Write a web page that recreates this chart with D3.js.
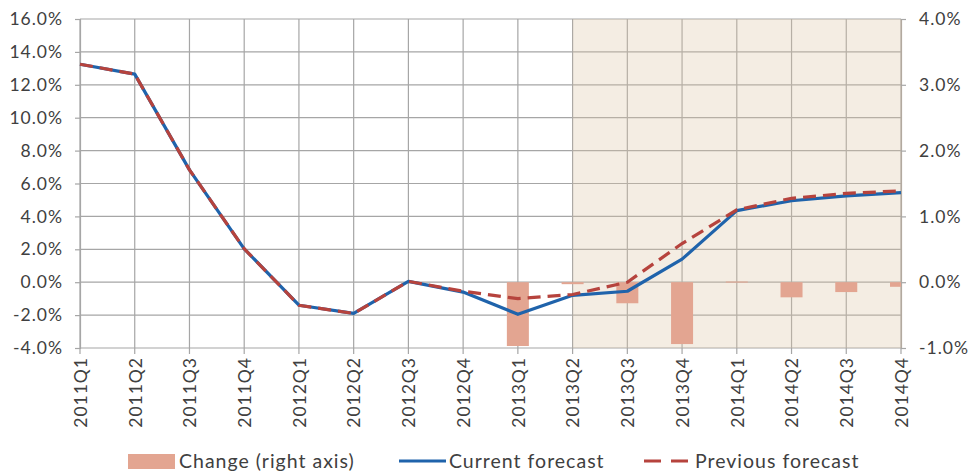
<!DOCTYPE html>
<html>
<head>
<meta charset="utf-8">
<script src="https://cdn.jsdelivr.net/npm/d3@7"></script>
<style>
  html, body { margin: 0; padding: 0; background: #ffffff; }
  svg { display: block; }
  text { font-family: "Lato", "Open Sans", sans-serif; fill: #404040; letter-spacing: 1px; }
</style>
</head>
<body>
<svg id="chart" width="970" height="472"></svg>
<script>
// Quarterly growth forecasts (left axis, %) and revision (right axis, %)
const categories = ["2011Q1","2011Q2","2011Q3","2011Q4","2012Q1","2012Q2","2012Q3","2012Q4",
                    "2013Q1","2013Q2","2013Q3","2013Q4","2014Q1","2014Q2","2014Q3","2014Q4"];
const currentForecast  = [13.25, 12.65, 6.83, 2.03, -1.4, -1.9, 0.05, -0.6, -1.95, -0.8, -0.55, 1.4, 4.35, 4.95, 5.25, 5.45];
const previousForecast = [13.25, 12.65, 6.83, 2.03, -1.4, -1.9, 0.05, -0.55, -1.0, -0.75, 0.0, 2.35, 4.4, 5.1, 5.4, 5.55];
const changeRightAxis  = [0, 0, 0, 0, 0, 0, 0, 0, -0.97, -0.03, -0.32, -0.94, 0.01, -0.23, -0.15, -0.07];
const leftTicks  = [-4, -2, 0, 2, 4, 6, 8, 10, 12, 14, 16];
const rightTicks = [-1, 0, 1, 2, 3, 4];
const forecastStart = "2013Q2";
const legendLabels = ["Change (right axis)", "Current forecast", "Previous forecast"];

const svg = d3.select("#chart");
const plot = { left: 80, right: 901, top: 19, bottom: 348 };

const x = d3.scalePoint().domain(categories).range([plot.left, plot.right]).padding(0);
const yL = d3.scaleLinear().domain([-4, 16]).range([plot.bottom, plot.top]);
const yR = d3.scaleLinear().domain([-1, 4]).range([plot.bottom, plot.top]);

const gridColor = "#a6a6a6";

// clip for bars at the plot edges
svg.append("defs").append("clipPath").attr("id", "plotClip")
  .append("rect")
  .attr("x", plot.left).attr("y", plot.top)
  .attr("width", plot.right - plot.left).attr("height", plot.bottom - plot.top);

// horizontal gridlines
svg.append("g").selectAll("line").data(leftTicks).join("line")
  .attr("x1", plot.left).attr("x2", plot.right)
  .attr("y1", d => yL(d)).attr("y2", d => yL(d))
  .attr("stroke", gridColor).attr("stroke-width", 1.2);

// vertical gridlines (extend below as tick marks)
svg.append("g").selectAll("line").data(categories).join("line")
  .attr("x1", d => x(d)).attr("x2", d => x(d))
  .attr("y1", plot.top).attr("y2", plot.bottom + 6)
  .attr("stroke", gridColor).attr("stroke-width", 1.2);

// forecast period shading
svg.append("rect")
  .attr("x", x(forecastStart)).attr("y", plot.top)
  .attr("width", plot.right - x(forecastStart)).attr("height", plot.bottom - plot.top)
  .attr("fill", "#dcc3a3").attr("opacity", 0.3);

// left axis
const axL = d3.axisLeft(yL).tickValues(leftTicks).tickSize(5).tickPadding(12)
  .tickFormat(d => d.toFixed(1) + "%");
const gL = svg.append("g").attr("transform", `translate(${plot.left},0)`).call(axL);
gL.select(".domain").attr("stroke", gridColor).attr("stroke-width", 1.2);
gL.selectAll(".tick line").attr("stroke", gridColor).attr("stroke-width", 1.2);
gL.selectAll("text").style("font-size", "17.5px").attr("fill", "#404040");

// right axis
const axR = d3.axisRight(yR).tickValues(rightTicks).tickSize(5).tickPadding(13)
  .tickFormat(d => d.toFixed(1) + "%");
const gR = svg.append("g").attr("transform", `translate(${plot.right},0)`).call(axR);
gR.select(".domain").attr("stroke", "#b2a99f").attr("stroke-width", 1.2);
gR.selectAll(".tick line").attr("stroke", gridColor).attr("stroke-width", 1.2);
gR.selectAll("text").style("font-size", "17.5px").attr("fill", "#404040");

// bottom axis labels (rotated)
const axB = d3.axisBottom(x).tickSize(0).tickPadding(0);
const gB = svg.append("g").attr("transform", `translate(0,${plot.bottom})`).call(axB);
gB.select(".domain").remove();
gB.selectAll("text")
  .style("font-size", "17.5px").attr("fill", "#404040")
  .attr("text-anchor", "end")
  .attr("transform", "rotate(-90)")
  .attr("x", -9).attr("y", 0).attr("dy", "0.36em");

// change bars on right axis
const barW = 22;
svg.append("g").attr("clip-path", "url(#plotClip)")
  .selectAll("rect").data(changeRightAxis.map((v, i) => ({ c: categories[i], v })).filter(d => d.v !== 0))
  .join("rect")
  .attr("x", d => x(d.c) - barW / 2).attr("width", barW)
  .attr("y", d => Math.min(yR(d.v), yR(0)))
  .attr("height", d => Math.max(1, Math.abs(yR(d.v) - yR(0))))
  .attr("fill", "#e3a591");

// lines
const lineL = d3.line().x((d, i) => x(categories[i])).y(d => yL(d));
svg.append("path").datum(currentForecast)
  .attr("d", lineL).attr("fill", "none")
  .attr("stroke", "#1f63ab").attr("stroke-width", 3.2).attr("stroke-linejoin", "round");
svg.append("path").datum(previousForecast)
  .attr("d", lineL).attr("fill", "none")
  .attr("stroke", "#b6433d").attr("stroke-width", 3.2)
  .attr("stroke-dasharray", "13,7");

// legend
const lg = svg.append("g");
const legendY = 461;
const legendFont = "19.5px";
lg.append("rect").attr("x", 128).attr("y", legendY - 7).attr("width", 47).attr("height", 15).attr("fill", "#e3a591");
lg.append("text").attr("x", 179).attr("y", legendY).attr("dy", "0.36em").style("font-size", legendFont).text(legendLabels[0]);
lg.append("line").attr("x1", 399).attr("x2", 446).attr("y1", legendY).attr("y2", legendY)
  .attr("stroke", "#1f63ab").attr("stroke-width", 3.2);
lg.append("text").attr("x", 449).attr("y", legendY).attr("dy", "0.36em").style("font-size", legendFont).text(legendLabels[1]);
lg.append("line").attr("x1", 644).attr("x2", 691).attr("y1", legendY).attr("y2", legendY)
  .attr("stroke", "#b6433d").attr("stroke-width", 3.2).attr("stroke-dasharray", "17,10");
lg.append("text").attr("x", 695).attr("y", legendY).attr("dy", "0.36em").style("font-size", legendFont).text(legendLabels[2]);
</script>
</body>
</html>
